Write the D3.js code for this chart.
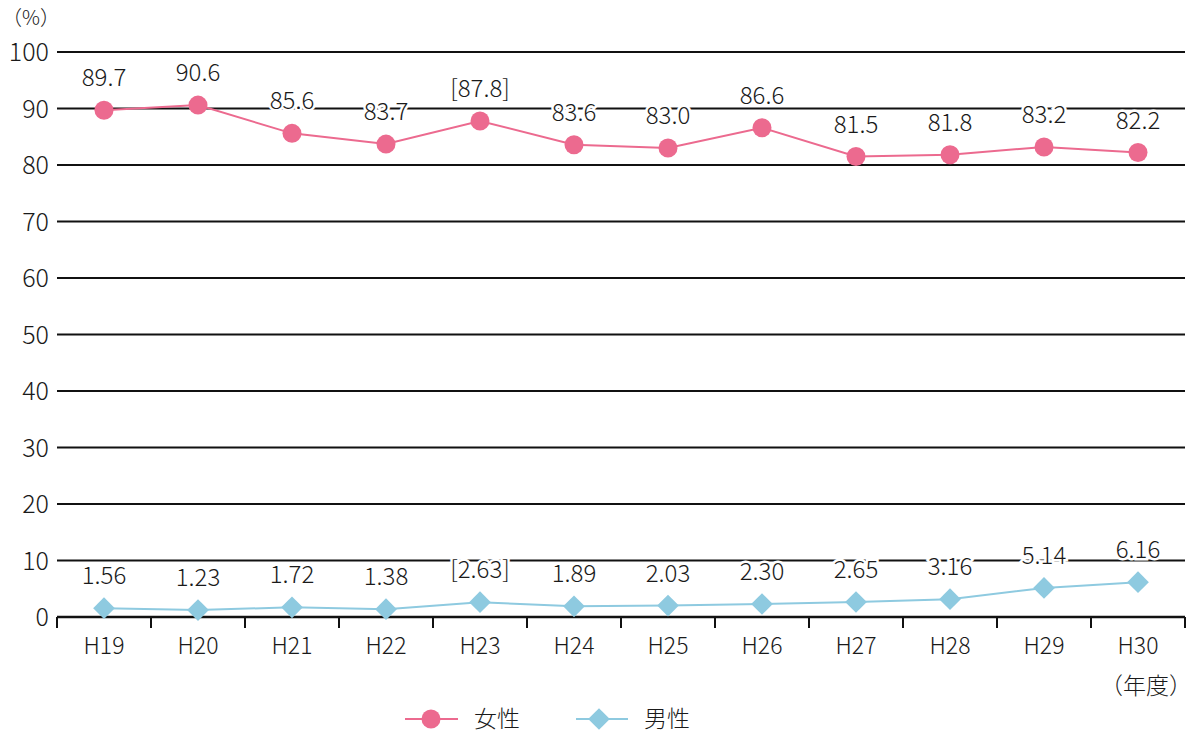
<!DOCTYPE html>
<html><head><meta charset="utf-8">
<script src="https://cdn.jsdelivr.net/npm/d3@7"></script>
<style>
html,body{margin:0;padding:0;background:#fff;}
svg{display:block;font-family:"Noto Sans CJK JP","Noto Sans",sans-serif;}
</style></head>
<body>
<svg id="chart" width="1200" height="744"></svg>
<script>
const categories = ["H19","H20","H21","H22","H23","H24","H25","H26","H27","H28","H29","H30"];
const femaleValues = [89.7, 90.6, 85.6, 83.7, 87.8, 83.6, 83.0, 86.6, 81.5, 81.8, 83.2, 82.2];
const maleValues = [1.56, 1.23, 1.72, 1.38, 2.63, 1.89, 2.03, 2.30, 2.65, 3.16, 5.14, 6.16];
const bracketedCategories = ["H23"];
const yTicks = [0,10,20,30,40,50,60,70,80,90,100];
const seriesNames = ["女性","男性"];
const yUnit = "（%）";
const xUnit = "（年度）";

(function(){
const pink = "#ec6a8f", blue = "#8ecae0";
const txt = "#1a1a1a";
const svg = d3.select("#chart");
const mLeft = 57, mRight = 1185, mTop = 52, mBottom = 617;

const x = d3.scaleBand().domain(categories).range([mLeft, mRight]);
const y = d3.scaleLinear().domain([0, 100]).range([mBottom, mTop]);

// gridlines
svg.append("g").selectAll("line").data(yTicks.filter(t => t > 0)).join("line")
  .attr("x1", mLeft).attr("x2", mRight)
  .attr("y1", d => y(d)).attr("y2", d => y(d))
  .attr("stroke", "#111").attr("stroke-width", 2);

// y tick labels
svg.append("g").selectAll("text").data(yTicks).join("text")
  .attr("x", 49).attr("y", d => y(d)).attr("dy", "0.36em")
  .attr("text-anchor", "end").attr("font-size", 25).attr("font-weight", 300).attr("fill", txt)
  .text(d => d);

// x axis
const xAxis = d3.axisBottom(x).tickSize(0).tickPadding(0);
const gx = svg.append("g").attr("transform", `translate(0,${mBottom})`).call(xAxis);
gx.select(".domain").remove();
gx.selectAll("text").attr("font-size", 23).attr("font-weight", 300).attr("fill", txt)
  .attr("font-family", '"Noto Sans CJK JP",sans-serif').attr("dy", "0").attr("y", 37);
svg.append("line").attr("x1", mLeft).attr("x2", mRight).attr("y1", mBottom).attr("y2", mBottom)
  .attr("stroke", "#111").attr("stroke-width", 2.5);
const bounds = categories.map(c => x(c)).concat([mRight]);
svg.append("g").selectAll("line").data(bounds).join("line")
  .attr("x1", d => d).attr("x2", d => d).attr("y1", mBottom).attr("y2", mBottom + 11)
  .attr("stroke", "#111").attr("stroke-width", 2);

const cx = c => x(c) + x.bandwidth() / 2;

// lines
const lineGen = d3.line().x((d, i) => cx(categories[i])).y(d => y(d));
svg.append("path").datum(femaleValues).attr("d", lineGen)
  .attr("fill", "none").attr("stroke", pink).attr("stroke-width", 2);
svg.append("path").datum(maleValues).attr("d", lineGen)
  .attr("fill", "none").attr("stroke", blue).attr("stroke-width", 2);

// markers
svg.append("g").selectAll("circle").data(femaleValues).join("circle")
  .attr("cx", (d, i) => cx(categories[i])).attr("cy", d => y(d)).attr("r", 9.5)
  .attr("fill", pink);
const diamond = d3.symbol().type(d3.symbolDiamond2).size(300);
svg.append("g").selectAll("path").data(maleValues).join("path")
  .attr("d", diamond)
  .attr("transform", (d, i) => `translate(${cx(categories[i])},${y(d)})`)
  .attr("fill", blue);

// value labels
function labelText(v, i, fmt) {
  const s = d3.format(fmt)(v);
  return bracketedCategories.includes(categories[i]) ? "[" + s + "]" : s;
}
function addLabels(vals, fmt) {
  svg.append("g").selectAll("text").data(vals).join("text")
    .attr("x", (d, i) => cx(categories[i])).attr("y", d => y(d) - 24)
    .attr("text-anchor", "middle").attr("font-size", 24).attr("font-weight", 300).attr("fill", txt)
    .attr("stroke", "#fff").attr("stroke-width", 5).attr("paint-order", "stroke")
    .text((d, i) => labelText(d, i, fmt));
}
addLabels(femaleValues, ".1f");
addLabels(maleValues, ".2f");

// unit labels
svg.append("text").attr("x", 2).attr("y", 25).attr("font-size", 20).attr("font-weight", 300).attr("fill", txt).text(yUnit);
svg.append("text").attr("x", 1192).attr("y", 694).attr("text-anchor", "end")
  .attr("font-size", 23).attr("font-weight", 300).attr("fill", txt).text(xUnit);

// legend
const lg = svg.append("g");
lg.append("line").attr("x1", 405).attr("x2", 458).attr("y1", 719).attr("y2", 719).attr("stroke", pink).attr("stroke-width", 2);
lg.append("circle").attr("cx", 431).attr("cy", 719).attr("r", 9.5).attr("fill", pink);
lg.append("text").attr("x", 474).attr("y", 719).attr("dy", "0.36em").attr("font-size", 23).attr("font-weight", 300).attr("fill", txt).text(seriesNames[0]);
lg.append("line").attr("x1", 576).attr("x2", 628).attr("y1", 719).attr("y2", 719).attr("stroke", blue).attr("stroke-width", 2);
lg.append("path").attr("d", diamond).attr("transform", "translate(599,719)").attr("fill", blue);
lg.append("text").attr("x", 644).attr("y", 719).attr("dy", "0.36em").attr("font-size", 23).attr("font-weight", 300).attr("fill", txt).text(seriesNames[1]);
})();
</script>
</body></html>
